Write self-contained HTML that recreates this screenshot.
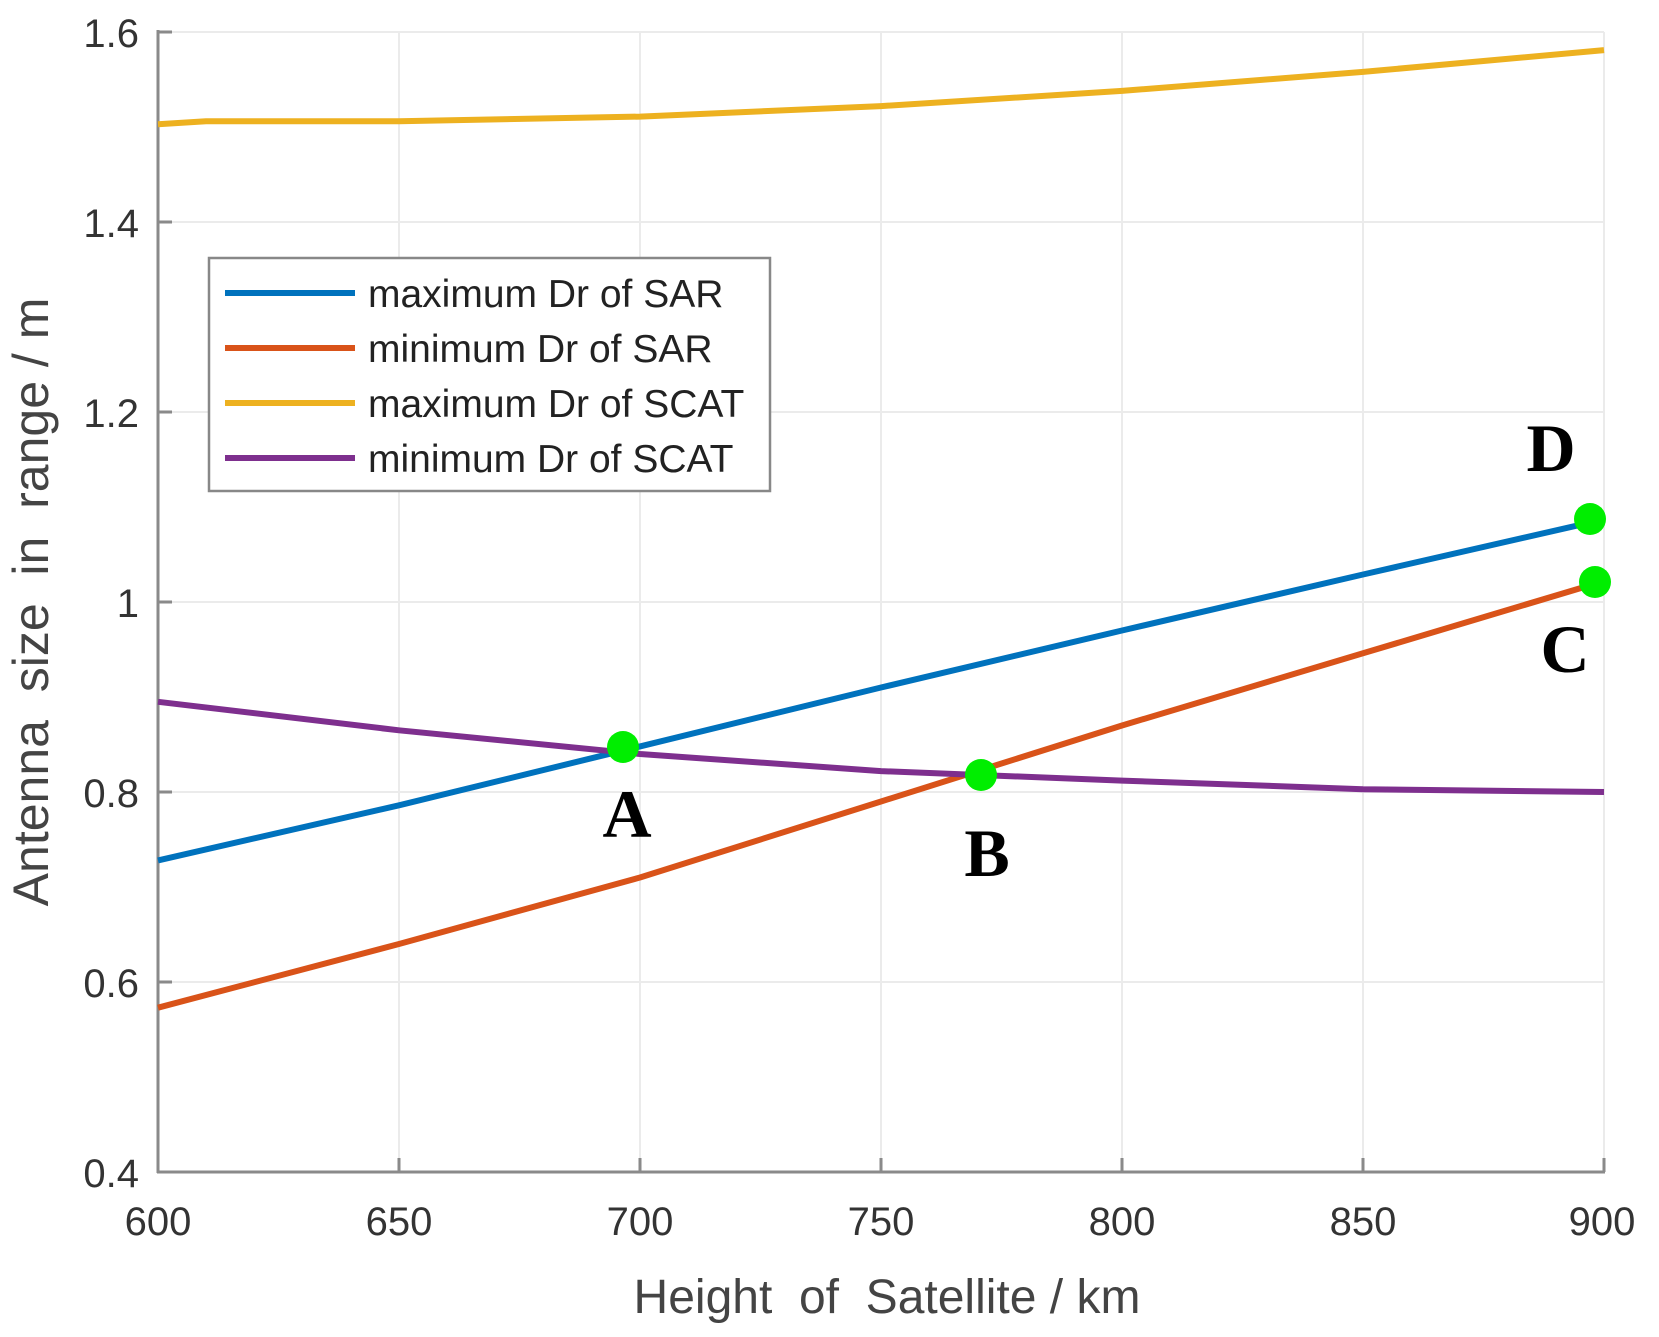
<!DOCTYPE html>
<html><head><style>body{margin:0;background:#fff}svg{display:block}</style></head>
<body>
<svg width="1659" height="1337" viewBox="0 0 1659 1337" xmlns="http://www.w3.org/2000/svg" font-family="Liberation Sans, Arial, sans-serif">
<g stroke="#ebebeb" stroke-width="2">
<line x1="399" y1="32" x2="399" y2="1172"/><line x1="640" y1="32" x2="640" y2="1172"/><line x1="881" y1="32" x2="881" y2="1172"/><line x1="1122" y1="32" x2="1122" y2="1172"/><line x1="1363" y1="32" x2="1363" y2="1172"/><line x1="1604" y1="32" x2="1604" y2="1172"/>
<line x1="158" y1="32" x2="1604" y2="32"/><line x1="158" y1="222" x2="1604" y2="222"/><line x1="158" y1="412" x2="1604" y2="412"/><line x1="158" y1="602" x2="1604" y2="602"/><line x1="158" y1="792" x2="1604" y2="792"/><line x1="158" y1="982" x2="1604" y2="982"/>
</g>
<g stroke="#8a8a8a" stroke-width="3">
<line x1="158" y1="30" x2="158" y2="1173"/><line x1="157" y1="1172" x2="1605" y2="1172"/>
<line x1="158" y1="32" x2="172" y2="32"/><line x1="158" y1="222" x2="172" y2="222"/><line x1="158" y1="412" x2="172" y2="412"/><line x1="158" y1="602" x2="172" y2="602"/><line x1="158" y1="792" x2="172" y2="792"/><line x1="158" y1="982" x2="172" y2="982"/>
<line x1="399" y1="1172" x2="399" y2="1158"/><line x1="640" y1="1172" x2="640" y2="1158"/><line x1="881" y1="1172" x2="881" y2="1158"/><line x1="1122" y1="1172" x2="1122" y2="1158"/><line x1="1363" y1="1172" x2="1363" y2="1158"/><line x1="1604" y1="1172" x2="1604" y2="1158"/>
</g>
<g fill="#333" font-size="40" text-anchor="end">
<text x="139" y="47">1.6</text><text x="139" y="237">1.4</text><text x="139" y="427">1.2</text><text x="139" y="617">1</text><text x="139" y="807">0.8</text><text x="139" y="997">0.6</text><text x="139" y="1187">0.4</text>
</g>
<g fill="#333" font-size="40" text-anchor="middle">
<text x="158" y="1235">600</text><text x="399" y="1235">650</text><text x="640" y="1235">700</text><text x="881" y="1235">750</text><text x="1122" y="1235">800</text><text x="1363" y="1235">850</text><text x="1602" y="1235">900</text>
</g>
<text x="887" y="1313" font-size="48" fill="#444" text-anchor="middle" xml:space="preserve" style="white-space:pre">Height  of  Satellite / km</text>
<text transform="translate(48,602) rotate(-90)" font-size="50" fill="#444" text-anchor="middle" xml:space="preserve" style="white-space:pre">Antenna  size  in  range / m</text>
<g fill="none" stroke-width="6" stroke-linejoin="round">
<polyline stroke="#edb120" points="158,124.2 206,121.3 399,121.3 640,116.6 881,106.1 1122,90.9 1363,71.9 1604,50.1"/>
<polyline stroke="#0072bd" points="158,860.4 399,805.3 640,746.4 881,687.5 1122,630.5 1363,574.5 1604,519.4"/>
<polyline stroke="#d95319" points="158,1007.7 399,944 640,877.5 881,801.5 1122,725.5 1363,653.3 1604,581.1"/>
<polyline stroke="#7e2f8e" points="158,701.8 399,730.3 640,754 881,771.1 1122,780.6 1363,789.2 1604,792"/>
</g>
<rect x="209" y="258" width="561" height="233" fill="#fff" stroke="#888" stroke-width="2.5"/>
<g stroke-width="6">
<line x1="225" y1="293" x2="355" y2="293" stroke="#0072bd"/>
<line x1="225" y1="348" x2="355" y2="348" stroke="#d95319"/>
<line x1="225" y1="403" x2="355" y2="403" stroke="#edb120"/>
<line x1="225" y1="458" x2="355" y2="458" stroke="#7e2f8e"/>
</g>
<g font-size="39" fill="#222">
<text x="368" y="307">maximum Dr of SAR</text>
<text x="368" y="362">minimum Dr of SAR</text>
<text x="368" y="417">maximum Dr of SCAT</text>
<text x="368" y="472">minimum Dr of SCAT</text>
</g>
<g fill="#00ee00">
<circle cx="623" cy="747" r="16"/><circle cx="981" cy="775" r="16"/><circle cx="1590" cy="519" r="16"/><circle cx="1595" cy="582" r="16"/>
</g>
<g font-family="Liberation Serif, serif" font-weight="bold" font-size="68" fill="#000" text-anchor="middle">
<text x="627" y="837">A</text><text x="987" y="876">B</text><text x="1551" y="471">D</text><text x="1565" y="672">C</text>
</g>
</svg>
</body></html>
